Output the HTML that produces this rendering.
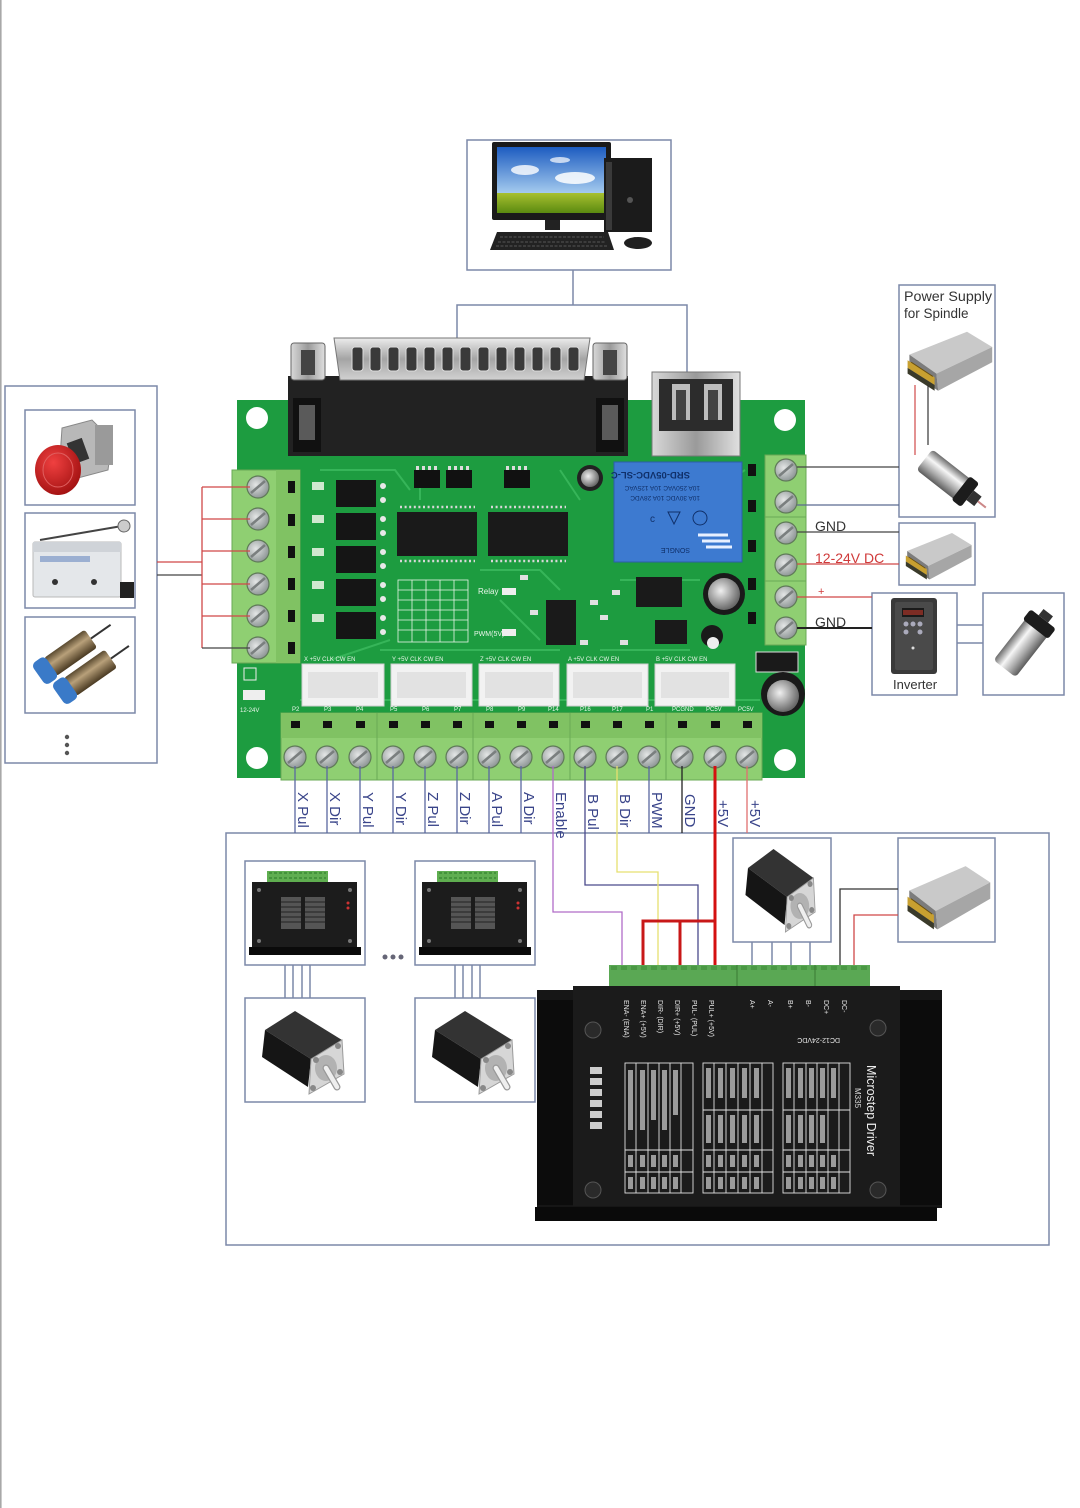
<!DOCTYPE html>
<html><head><meta charset="utf-8">
<style>
html,body{margin:0;padding:0;background:#fff;}
svg{display:block;}
text{font-family:"Liberation Sans",sans-serif;}
</style></head><body>
<svg width="1080" height="1508" viewBox="0 0 1080 1508" xmlns="http://www.w3.org/2000/svg">
<defs>
 <linearGradient id="sky" x1="0" y1="0" x2="0" y2="1"><stop offset="0" stop-color="#1d5cc0"/><stop offset="1" stop-color="#b0d4f2"/></linearGradient>
 <linearGradient id="grass" x1="0" y1="0" x2="0" y2="1"><stop offset="0" stop-color="#a8c030"/><stop offset="1" stop-color="#5a8a10"/></linearGradient>
 <linearGradient id="silv" x1="0" y1="0" x2="0" y2="1"><stop offset="0" stop-color="#ececec"/><stop offset="0.5" stop-color="#a4a4a4"/><stop offset="1" stop-color="#d2d2d2"/></linearGradient>
 <linearGradient id="silvh" x1="0" y1="0" x2="1" y2="0"><stop offset="0" stop-color="#d8d8d8"/><stop offset="0.5" stop-color="#9a9a9a"/><stop offset="1" stop-color="#e0e0e0"/></linearGradient>
 <linearGradient id="cyl" x1="0" y1="0" x2="0" y2="1"><stop offset="0" stop-color="#6c6c6c"/><stop offset="0.35" stop-color="#f6f6f6"/><stop offset="0.7" stop-color="#a8a8a8"/><stop offset="1" stop-color="#5c5c5c"/></linearGradient>
 <linearGradient id="bronze" x1="0" y1="0" x2="0" y2="1"><stop offset="0" stop-color="#5a4a30"/><stop offset="0.4" stop-color="#b8a07a"/><stop offset="1" stop-color="#4a3a22"/></linearGradient>
 <radialGradient id="scr" cx="0.4" cy="0.4" r="0.65"><stop offset="0" stop-color="#e4e6e6"/><stop offset="1" stop-color="#8a9292"/></radialGradient>
 <radialGradient id="capg" cx="0.4" cy="0.4" r="0.6"><stop offset="0" stop-color="#f0f0f0"/><stop offset="1" stop-color="#6a6a6a"/></radialGradient>
 <radialGradient id="red" cx="0.4" cy="0.35" r="0.7"><stop offset="0" stop-color="#f04040"/><stop offset="1" stop-color="#a01010"/></radialGradient>

 <g id="screw">
   <circle r="11" fill="url(#scr)" stroke="#5f7a58" stroke-width="1.2"/>
   <line x1="-7" y1="6" x2="7" y2="-6" stroke="#7a7f7f" stroke-width="2.6"/>
 </g>

 <g id="stepper">
   <polygon points="20,32 50,13 97,42 66,61" fill="#333"/>
   <polygon points="20,32 66,61 63,89 17,59" fill="#151515"/>
   <polygon points="66,61 97,42 99,76 64,96" fill="#d6d6d6" stroke="#9a9a9a" stroke-width="1"/>
   <ellipse cx="81" cy="70" rx="11" ry="13" fill="#b2b2b2"/>
   <line x1="81" y1="70" x2="92" y2="89" stroke="#999" stroke-width="7" stroke-linecap="round"/>
   <line x1="81" y1="70" x2="92" y2="89" stroke="#eee" stroke-width="4.5" stroke-linecap="round"/>
   <circle cx="71" cy="62" r="3" fill="#888"/><circle cx="93" cy="48" r="3" fill="#888"/>
   <circle cx="68" cy="90" r="3" fill="#888"/><circle cx="95" cy="74" r="3" fill="#888"/>
 </g>

 <g id="minidrv">
   <rect x="22" y="10" width="61" height="11" fill="#5fae50"/>
   <path d="M24 12h57M24 17h57" stroke="#3c8a34" stroke-width="1.5" stroke-dasharray="3 2"/>
   <rect x="7" y="21" width="105" height="72" fill="#1c1c1c"/>
   <rect x="4" y="86" width="112" height="8" fill="#0a0a0a"/>
   <rect x="36" y="36" width="20" height="32" fill="#555"/>
   <rect x="60" y="36" width="20" height="32" fill="#555"/>
   <path d="M36 41h20M36 46h20M36 51h20M36 56h20M36 61h20M60 41h20M60 46h20M60 51h20M60 56h20M60 61h20" stroke="#222" stroke-width="1"/>
   <circle cx="14" cy="29" r="2" fill="#777"/><circle cx="105" cy="29" r="2" fill="#777"/>
   <circle cx="14" cy="80" r="2" fill="#777"/><circle cx="105" cy="80" r="2" fill="#777"/>
   <circle cx="103" cy="42" r="1.5" fill="#c33"/><circle cx="103" cy="47" r="1.5" fill="#c33"/>
 </g>

 <g id="psu">
   <polygon points="6,28 70,4 98,20 36,48" fill="#c9c9c9"/>
   <polygon points="36,48 98,20 98,36 38,66" fill="#a6a6a6"/>
   <polygon points="6,28 36,48 38,66 6,46" fill="#7c7c7c"/>
   <polygon points="4,34 34,52 34,60 4,42" fill="#c8a030"/>
   <polygon points="4,42 34,60 34,66 4,48" fill="#3a3a2a"/>
   <polygon points="8,36 32,51" stroke="#6a5010" stroke-width="1"/>
 </g>
</defs>

<rect x="0" y="0" width="1080" height="1508" fill="#fff"/>
<rect x="0" y="0" width="1.6" height="1508" fill="#a8a8a8"/>

<g fill="none" stroke="#7c88a8" stroke-width="1.5">
 <!-- computer -->
 <rect x="467" y="140" width="204" height="130"/>
 <line x1="573" y1="270" x2="573" y2="305"/>
 <polyline points="457,340 457,305 687,305 687,374"/>
 <!-- left box -->
 <rect x="5" y="386" width="152" height="377"/>
 <rect x="25" y="410" width="110" height="95"/>
 <rect x="25" y="513" width="110" height="95"/>
 <rect x="25" y="617" width="110" height="96"/>
 <!-- right boxes -->
 <rect x="899" y="285" width="96" height="232"/>
 <rect x="899" y="523" width="76" height="62"/>
 <rect x="872" y="593" width="85" height="102"/>
 <rect x="983" y="593" width="81" height="102"/>
 <line x1="957" y1="625" x2="983" y2="625"/>
 <line x1="957" y1="643" x2="983" y2="643"/>
 <!-- big bottom box -->
 <rect x="226" y="833" width="823" height="412"/>
 <rect x="245" y="861" width="120" height="104"/>
 <rect x="415" y="861" width="120" height="104"/>
 <rect x="245" y="998" width="120" height="104"/>
 <rect x="415" y="998" width="120" height="104"/>
 <rect x="733" y="838" width="98" height="104"/>
 <rect x="898" y="838" width="97" height="104"/>
 <path d="M285 965v33M293 965v33M302 965v33M310 965v33M455 965v33M463 965v33M472 965v33M480 965v33"/>
 <path d="M752 942v27M772 942v27M791 942v27M810 942v27"/>
</g>

<!-- Computer -->
<rect x="492" y="142" width="119" height="78" rx="2" fill="#1a1a1a"/>
<rect x="497" y="147" width="109" height="50" fill="url(#sky)"/>
<rect x="497" y="193" width="109" height="20" fill="url(#grass)"/>
<ellipse cx="525" cy="170" rx="14" ry="5" fill="#fff" opacity="0.8"/>
<ellipse cx="575" cy="178" rx="20" ry="6" fill="#fff" opacity="0.85"/>
<ellipse cx="560" cy="160" rx="10" ry="3" fill="#fff" opacity="0.7"/>
<rect x="545" y="220" width="15" height="10" fill="#222"/>
<polygon points="490,250 497,232 608,232 614,250" fill="#222"/>
<path d="M500 237h104M498 242h108M496 246h112" stroke="#555" stroke-width="1" stroke-dasharray="3 1.5"/>
<rect x="604" y="158" width="48" height="74" fill="#1b1b1b"/>
<rect x="606" y="162" width="6" height="68" fill="#3a3a3a"/>
<circle cx="630" cy="200" r="3" fill="#555"/>
<ellipse cx="638" cy="243" rx="14" ry="6" fill="#202020"/>

<!-- PCB board -->
<rect x="237" y="400" width="568" height="378" fill="#1d9c40"/>
<g stroke="#3dbb5f" stroke-width="2" fill="none" opacity="0.8">
 <path d="M320 470 L395 470 L410 490 M330 660 L390 640 M480 570 L540 570 L560 590 M500 600 L540 640 M620 580 L700 580 M600 650 L690 650 M420 470 L420 500 M560 470 L580 500 M300 700 L760 700 M700 500 L745 470 M380 650 L560 650"/>
</g>
<circle cx="257" cy="418" r="11" fill="#fff"/>
<circle cx="785" cy="420" r="11" fill="#fff"/>
<circle cx="257" cy="758" r="11" fill="#fff"/>
<circle cx="785" cy="760" r="11" fill="#fff"/>

<!-- DB25 -->
<rect x="288" y="376" width="340" height="80" fill="#222"/>
<rect x="293" y="398" width="28" height="54" fill="#111"/>
<rect x="596" y="398" width="28" height="54" fill="#111"/>
<rect x="299" y="405" width="16" height="35" fill="#5a5a5a"/>
<rect x="602" y="405" width="16" height="35" fill="#5a5a5a"/>
<path d="M334,338 L590,338 L584,380 L340,380 Z" fill="url(#silv)" stroke="#777"/>
<g fill="#3a3a3a" stroke="#ddd" stroke-width="1">
 <rect x="352" y="347" width="11" height="24" rx="3"/><rect x="370" y="347" width="11" height="24" rx="3"/>
 <rect x="388" y="347" width="11" height="24" rx="3"/><rect x="406" y="347" width="11" height="24" rx="3"/>
 <rect x="424" y="347" width="11" height="24" rx="3"/><rect x="442" y="347" width="11" height="24" rx="3"/>
 <rect x="460" y="347" width="11" height="24" rx="3"/><rect x="478" y="347" width="11" height="24" rx="3"/>
 <rect x="496" y="347" width="11" height="24" rx="3"/><rect x="514" y="347" width="11" height="24" rx="3"/>
 <rect x="532" y="347" width="11" height="24" rx="3"/><rect x="550" y="347" width="11" height="24" rx="3"/>
 <rect x="568" y="347" width="11" height="24" rx="3"/>
</g>
<rect x="291" y="343" width="34" height="37" rx="3" fill="url(#silvh)" stroke="#666"/>
<rect x="593" y="343" width="34" height="37" rx="3" fill="url(#silvh)" stroke="#666"/>
<rect x="301" y="350" width="14" height="25" fill="#444"/>
<rect x="603" y="350" width="14" height="25" fill="#444"/>

<!-- USB -->
<rect x="652" y="372" width="88" height="84" fill="url(#silvh)" stroke="#777"/>
<rect x="659" y="379" width="74" height="52" fill="#2c2c2c"/>
<rect x="672" y="384" width="18" height="36" fill="#bdbdbd"/>
<rect x="704" y="384" width="18" height="36" fill="#bdbdbd"/>
<rect x="676" y="390" width="10" height="30" fill="#444"/>
<rect x="708" y="390" width="10" height="30" fill="#444"/>

<!-- small resistor arrays -->
<g fill="#111"><rect x="414" y="470" width="26" height="18"/><rect x="446" y="470" width="26" height="18"/><rect x="504" y="470" width="26" height="18"/></g>
<g fill="#ddd"><rect x="416" y="466" width="3" height="4"/><rect x="422" y="466" width="3" height="4"/><rect x="428" y="466" width="3" height="4"/><rect x="434" y="466" width="3" height="4"/><rect x="448" y="466" width="3" height="4"/><rect x="454" y="466" width="3" height="4"/><rect x="460" y="466" width="3" height="4"/><rect x="466" y="466" width="3" height="4"/><rect x="506" y="466" width="3" height="4"/><rect x="512" y="466" width="3" height="4"/><rect x="518" y="466" width="3" height="4"/><rect x="524" y="466" width="3" height="4"/></g>

<!-- optocouplers -->
<g fill="#151515">
 <rect x="336" y="480" width="40" height="27"/><rect x="336" y="513" width="40" height="27"/>
 <rect x="336" y="546" width="40" height="27"/><rect x="336" y="579" width="40" height="27"/>
 <rect x="336" y="612" width="40" height="27"/>
</g>
<g fill="#e8e8e8">
 <circle cx="383" cy="486" r="3"/><circle cx="383" cy="500" r="3"/><circle cx="383" cy="519" r="3"/><circle cx="383" cy="533" r="3"/>
 <circle cx="383" cy="552" r="3"/><circle cx="383" cy="566" r="3"/><circle cx="383" cy="585" r="3"/><circle cx="383" cy="599" r="3"/>
 <circle cx="383" cy="618" r="3"/><circle cx="383" cy="632" r="3"/>
</g>
<g fill="#cfe8cf"><rect x="312" y="482" width="12" height="8"/><rect x="312" y="515" width="12" height="8"/><rect x="312" y="548" width="12" height="8"/><rect x="312" y="581" width="12" height="8"/><rect x="312" y="614" width="12" height="8"/></g>

<!-- ICs -->
<rect x="397" y="512" width="80" height="44" fill="#1a1a1a"/>
<rect x="488" y="512" width="80" height="44" fill="#1a1a1a"/>
<g stroke="#d8d8d8" stroke-width="2.5" stroke-dasharray="2 2.6">
 <line x1="400" y1="507" x2="475" y2="507"/><line x1="400" y1="561" x2="475" y2="561"/>
 <line x1="491" y1="507" x2="566" y2="507"/><line x1="491" y1="561" x2="566" y2="561"/>
</g>

<!-- grid table -->
<g stroke="#e8f4e8" stroke-width="0.8" fill="none">
 <rect x="398" y="580" width="70" height="62"/>
 <path d="M398 590h70M398 600h70M398 610h70M398 620h70M398 630h70M412 580v62M426 580v62M440 580v62M454 580v62"/>
</g>
<text x="478" y="594" font-size="8" fill="#eaf6ea">Relay</text>
<text x="474" y="636" font-size="7" fill="#eaf6ea">PWM(5V)</text>
<rect x="502" y="588" width="14" height="7" fill="#eee"/>
<rect x="502" y="629" width="14" height="7" fill="#eee"/>
<rect x="546" y="600" width="30" height="45" fill="#1a1a1a"/>
<rect x="636" y="577" width="46" height="30" fill="#1a1a1a"/>
<rect x="655" y="620" width="32" height="24" fill="#1a1a1a"/>
<g fill="#e0e0e0"><rect x="520" y="575" width="8" height="5"/><rect x="530" y="610" width="8" height="5"/><rect x="590" y="600" width="8" height="5"/><rect x="600" y="615" width="8" height="5"/><rect x="612" y="590" width="8" height="5"/><rect x="620" y="640" width="8" height="5"/><rect x="580" y="640" width="8" height="5"/></g>

<!-- relay -->
<rect x="614" y="462" width="128" height="100" fill="#3d7ad0" stroke="#2a5ea8"/>
<text transform="translate(690,472) rotate(180)" font-size="9.5" fill="#10306a" font-weight="bold">SRD-05VDC-SL-C</text>
<text transform="translate(700,486) rotate(180)" font-size="6.5" fill="#10306a">10A 250VAC 10A 125VAC</text>
<text transform="translate(700,496) rotate(180)" font-size="6.5" fill="#10306a">10A 30VDC 10A 28VDC</text>
<circle cx="700" cy="518" r="7" fill="none" stroke="#10306a"/>
<text x="650" y="522" font-size="10" fill="#10306a">c</text>
<polygon points="668,512 680,512 674,524" fill="none" stroke="#10306a"/>
<text transform="translate(690,548) rotate(180)" font-size="7" fill="#10306a">SONGLE</text>
<path d="M698 535h30M702 541h28M706 547h26" stroke="#e8f0ff" stroke-width="3"/>

<!-- caps -->
<circle cx="590" cy="478" r="13" fill="#222"/><circle cx="590" cy="478" r="9" fill="url(#capg)"/>
<circle cx="724" cy="594" r="21" fill="#1a1a1a"/><circle cx="724" cy="594" r="16" fill="url(#capg)"/>
<circle cx="712" cy="636" r="11" fill="#1a1a1a"/><circle cx="713" cy="643" r="6" fill="#eee"/>
<rect x="748" y="464" width="8" height="12" fill="#111"/><rect x="748" y="500" width="8" height="12" fill="#111"/><rect x="748" y="540" width="8" height="12" fill="#111"/><rect x="748" y="578" width="8" height="12" fill="#111"/><rect x="748" y="612" width="8" height="12" fill="#111"/>
<rect x="756" y="652" width="42" height="20" fill="#1a1a1a" stroke="#ddd"/>
<circle cx="783" cy="694" r="22" fill="#1a1a1a"/><circle cx="783" cy="696" r="16" fill="url(#capg)"/>

<!-- board labels -->
<g font-size="6" fill="#eaf6ea">
 <text x="304" y="661">X +5V CLK CW EN</text><text x="392" y="661">Y +5V CLK CW EN</text>
 <text x="480" y="661">Z +5V CLK CW EN</text><text x="568" y="661">A +5V CLK CW EN</text>
 <text x="656" y="661">B +5V CLK CW EN</text>
 <text x="240" y="712">12-24V</text>
 <text x="292" y="711">P2</text><text x="324" y="711">P3</text><text x="356" y="711">P4</text><text x="390" y="711">P5</text><text x="422" y="711">P6</text><text x="454" y="711">P7</text><text x="486" y="711">P8</text><text x="518" y="711">P9</text><text x="548" y="711">P14</text><text x="580" y="711">P16</text><text x="612" y="711">P17</text><text x="646" y="711">P1</text><text x="672" y="711">PCGND</text><text x="706" y="711">PC5V</text><text x="738" y="711">PC5V</text>
</g>
<rect x="243" y="690" width="22" height="10" fill="#eee"/>
<rect x="244" y="668" width="12" height="12" fill="none" stroke="#eee"/>

<!-- headers -->
<g fill="#f2f2f2" stroke="#cfcfcf">
 <rect x="302" y="664" width="82" height="42"/><rect x="391" y="664" width="81" height="42"/>
 <rect x="479" y="664" width="80" height="42"/><rect x="567" y="664" width="81" height="42"/>
 <rect x="655" y="664" width="80" height="42"/>
</g>
<g fill="#e2e2e2"><rect x="308" y="672" width="70" height="26"/><rect x="397" y="672" width="69" height="26"/><rect x="485" y="672" width="68" height="26"/><rect x="573" y="672" width="69" height="26"/><rect x="661" y="672" width="68" height="26"/></g>

<!-- left terminal block -->
<rect x="232" y="470" width="68" height="193" fill="#8fcf72" stroke="#6aa955"/>
<rect x="276" y="470" width="24" height="193" fill="#80c263"/>
<g fill="#111"><rect x="288" y="481" width="7" height="12"/><rect x="288" y="514" width="7" height="12"/><rect x="288" y="546" width="7" height="12"/><rect x="288" y="578" width="7" height="12"/><rect x="288" y="610" width="7" height="12"/><rect x="288" y="642" width="7" height="12"/></g>
<use href="#screw" x="258" y="487"/><use href="#screw" x="258" y="519"/><use href="#screw" x="258" y="551"/>
<use href="#screw" x="258" y="584"/><use href="#screw" x="258" y="616"/><use href="#screw" x="258" y="648"/>

<!-- right terminal block -->
<rect x="765" y="455" width="41" height="190" fill="#8fcf72" stroke="#6aa955"/>
<line x1="765" y1="517" x2="806" y2="517" stroke="#6aa955"/>
<line x1="765" y1="581" x2="806" y2="581" stroke="#6aa955"/>
<use href="#screw" x="786" y="470"/><use href="#screw" x="786" y="502"/><use href="#screw" x="786" y="533"/>
<use href="#screw" x="786" y="565"/><use href="#screw" x="786" y="597"/><use href="#screw" x="786" y="628"/>

<!-- bottom terminal block -->
<rect x="281" y="713" width="481" height="67" fill="#8fcf72" stroke="#6aa955"/>
<rect x="281" y="713" width="481" height="25" fill="#80c263"/>
<g stroke="#6aa955"><line x1="377" y1="713" x2="377" y2="780"/><line x1="473" y1="713" x2="473" y2="780"/><line x1="570" y1="713" x2="570" y2="780"/><line x1="666" y1="713" x2="666" y2="780"/></g>
<g fill="#111">
 <rect x="291" y="721" width="9" height="7"/><rect x="323" y="721" width="9" height="7"/><rect x="356" y="721" width="9" height="7"/><rect x="389" y="721" width="9" height="7"/><rect x="421" y="721" width="9" height="7"/><rect x="453" y="721" width="9" height="7"/><rect x="485" y="721" width="9" height="7"/><rect x="517" y="721" width="9" height="7"/><rect x="549" y="721" width="9" height="7"/><rect x="581" y="721" width="9" height="7"/><rect x="613" y="721" width="9" height="7"/><rect x="645" y="721" width="9" height="7"/><rect x="678" y="721" width="9" height="7"/><rect x="711" y="721" width="9" height="7"/><rect x="743" y="721" width="9" height="7"/>
</g>
<use href="#screw" x="295" y="757"/><use href="#screw" x="327" y="757"/><use href="#screw" x="360" y="757"/>
<use href="#screw" x="393" y="757"/><use href="#screw" x="425" y="757"/><use href="#screw" x="457" y="757"/>
<use href="#screw" x="489" y="757"/><use href="#screw" x="521" y="757"/><use href="#screw" x="553" y="757"/>
<use href="#screw" x="585" y="757"/><use href="#screw" x="617" y="757"/><use href="#screw" x="649" y="757"/>
<use href="#screw" x="682" y="757"/><use href="#screw" x="715" y="757"/><use href="#screw" x="747" y="757"/>

<!-- left wiring -->
<g fill="none" stroke-width="1.3">
 <line x1="157" y1="562" x2="202" y2="562" stroke="#d04848"/>
 <line x1="157" y1="575" x2="202" y2="575" stroke="#444"/>
 <line x1="202" y1="487" x2="202" y2="648" stroke="#d04848"/>
 <path d="M202 487H250M202 519H250M202 551H250M202 584H250M202 616H250" stroke="#d04848"/>
 <line x1="202" y1="648" x2="250" y2="648" stroke="#444"/>
</g>

<!-- right wiring -->
<g fill="none" stroke-width="1.3">
 <line x1="797" y1="467" x2="899" y2="467" stroke="#444"/>
 <line x1="797" y1="505" x2="899" y2="505" stroke="#5a6a90"/>
 <line x1="797" y1="532" x2="899" y2="532" stroke="#444"/>
 <line x1="797" y1="564" x2="899" y2="564" stroke="#d04848"/>
 <line x1="797" y1="597" x2="872" y2="597" stroke="#d04848"/>
 <line x1="797" y1="628" x2="872" y2="628" stroke="#222" stroke-width="2"/>
</g>
<text x="815" y="531" font-size="14" fill="#333">GND</text>
<text x="815" y="563" font-size="14" fill="#d03a3a">12-24V DC</text>
<text x="818" y="595" font-size="11" fill="#d03a3a">+</text>
<text x="815" y="627" font-size="14" fill="#333">GND</text>

<!-- spindle PSU box -->
<text x="904" y="301" font-size="13.5" fill="#333" textLength="88" lengthAdjust="spacingAndGlyphs">Power Supply</text>
<text x="904" y="318" font-size="13.5" fill="#333">for Spindle</text>
<use href="#psu" transform="translate(904,328) scale(0.9,0.95)"/>
<line x1="915" y1="385" x2="915" y2="455" stroke="#d04848" stroke-width="1.2"/>
<line x1="928" y1="385" x2="928" y2="445" stroke="#333" stroke-width="1.2"/>
<g transform="rotate(38 948 478)">
 <rect x="918" y="465" width="52" height="26" rx="4" fill="url(#cyl)"/>
 <rect x="964" y="463" width="12" height="30" rx="3" fill="#1c1c1c"/>
 <rect x="976" y="472" width="10" height="12" fill="#333"/>
 <line x1="986" y1="478" x2="996" y2="478" stroke="#c88" stroke-width="2"/>
</g>

<!-- PSU 2 -->
<use href="#psu" transform="translate(903,530) scale(0.7,0.75)"/>

<!-- Inverter -->
<rect x="891" y="598" width="46" height="76" rx="3" fill="#3a3a3a"/>
<rect x="895" y="602" width="38" height="68" rx="2" fill="#4a4a4a"/>
<rect x="902" y="608" width="22" height="9" fill="#1a1a1a"/>
<rect x="903" y="610" width="20" height="5" fill="#c0392b" opacity="0.6"/>
<circle cx="906" cy="624" r="2.5" fill="#aab"/><circle cx="913" cy="624" r="2.5" fill="#aab"/><circle cx="920" cy="624" r="2.5" fill="#aab"/>
<circle cx="906" cy="632" r="2.5" fill="#aab"/><circle cx="920" cy="632" r="2.5" fill="#aab"/>
<circle cx="913" cy="648" r="1.5" fill="#ddd"/>
<text x="893" y="689" font-size="13" fill="#333">Inverter</text>

<!-- spindle motor 2 -->
<g transform="rotate(-52 1023 645)">
 <rect x="993" y="631" width="56" height="28" rx="4" fill="url(#cyl)"/>
 <rect x="1043" y="629" width="13" height="32" rx="3" fill="#1c1c1c"/>
 <rect x="1056" y="639" width="8" height="12" fill="#333"/>
</g>

<!-- left box images -->
<polygon points="62,428 92,420 112,440 108,470 78,478 60,458" fill="#b8b8b8" stroke="#888"/>
<rect x="95" y="425" width="18" height="40" fill="#9a9a9a"/>
<rect x="70" y="440" width="16" height="22" fill="#333" transform="rotate(-20 78 451)"/>
<ellipse cx="58" cy="470" rx="23" ry="25" fill="url(#red)"/>
<ellipse cx="58" cy="470" rx="15" ry="17" fill="none" stroke="#e06060" stroke-width="1"/>

<rect x="33" y="542" width="88" height="55" rx="2" fill="#e4e7ea" stroke="#b8b8b8"/>
<rect x="33" y="542" width="88" height="10" fill="#cfd3d8"/>
<line x1="40" y1="540" x2="122" y2="526" stroke="#444" stroke-width="2"/>
<circle cx="124" cy="526" r="6" fill="#ccc" stroke="#666"/>
<rect x="120" y="582" width="14" height="16" fill="#222"/>
<rect x="40" y="556" width="50" height="6" fill="#6a8ac0" opacity="0.6"/>
<circle cx="55" cy="582" r="3" fill="#333"/><circle cx="94" cy="582" r="3" fill="#333"/>

<g transform="rotate(-35 62 660)">
 <rect x="48" y="648" width="50" height="22" rx="3" fill="url(#bronze)"/>
 <rect x="34" y="646" width="16" height="26" rx="5" fill="#3a7ac8"/>
 <line x1="98" y1="659" x2="122" y2="659" stroke="#333" stroke-width="2"/>
</g>
<g transform="rotate(-35 82 680)">
 <rect x="68" y="668" width="50" height="22" rx="3" fill="url(#bronze)"/>
 <rect x="54" y="666" width="16" height="26" rx="5" fill="#3a7ac8"/>
 <line x1="118" y1="679" x2="140" y2="679" stroke="#333" stroke-width="2"/>
</g>
<circle cx="67" cy="737" r="2.2" fill="#555"/><circle cx="67" cy="745" r="2.2" fill="#555"/><circle cx="67" cy="753" r="2.2" fill="#555"/>

<!-- bottom wires from terminals -->
<g fill="none" stroke-width="1.3">
 <path d="M295 766V833M327 766V833M360 766V833M393 766V833M425 766V833M457 766V833M489 766V833M521 766V833M649 766V833" stroke="#5a68a0"/>
 <path d="M553 766V912H622V968" stroke="#b06cc8"/>
 <path d="M585 766V885H698V968" stroke="#4a4a8c"/>
 <path d="M617 766V872H658V968" stroke="#e6e070"/>
 <path d="M682 766V833" stroke="#222"/>
 <path d="M747 766V833" stroke="#e07070"/>
 <path d="M715 766V968" stroke="#d41010" stroke-width="3"/>
 <path d="M643 968V921H715M680 921V968M643 921V968" stroke="#c81818" stroke-width="3"/>
</g>
<g font-size="15" fill="#3a458a">
 <text transform="translate(298,792) rotate(90)">X Pul</text>
 <text transform="translate(330,792) rotate(90)">X Dir</text>
 <text transform="translate(363,792) rotate(90)">Y Pul</text>
 <text transform="translate(396,792) rotate(90)">Y Dir</text>
 <text transform="translate(428,792) rotate(90)">Z Pul</text>
 <text transform="translate(460,792) rotate(90)">Z Dir</text>
 <text transform="translate(492,792) rotate(90)">A Pul</text>
 <text transform="translate(524,792) rotate(90)">A Dir</text>
 <text transform="translate(556,792) rotate(90)">Enable</text>
 <text transform="translate(588,794) rotate(90)">B Pul</text>
 <text transform="translate(620,794) rotate(90)">B Dir</text>
 <text transform="translate(652,792) rotate(90)">PWM</text>
 <text transform="translate(685,794) rotate(90)">GND</text>
 <text transform="translate(718,800) rotate(90)">+5V</text>
 <text transform="translate(750,800) rotate(90)">+5V</text>
</g>

<!-- small drivers and motors -->
<use href="#minidrv" x="245" y="861"/>
<use href="#minidrv" x="415" y="861"/>
<use href="#stepper" x="245" y="998"/>
<use href="#stepper" x="415" y="998"/>
<circle cx="385" cy="957" r="2.5" fill="#667"/><circle cx="393" cy="957" r="2.5" fill="#667"/><circle cx="401" cy="957" r="2.5" fill="#667"/>

<!-- right motor + psu -->
<use href="#stepper" transform="translate(731,836) scale(0.85,1)"/>
<use href="#psu" transform="translate(904,862) scale(0.88,1.02)"/>
<g fill="none" stroke-width="1.3">
 <path d="M898 889H840V968" stroke="#333"/>
 <path d="M898 915H854V968" stroke="#d04848"/>
</g>

<!-- big driver -->
<rect x="609" y="965" width="261" height="22" fill="#5aa854"/>
<path d="M611 968h257" stroke="#4a9844" stroke-width="4" stroke-dasharray="6 4"/>
<path d="M737 965v22M815 965v22" stroke="#3a7a34"/>
<rect x="537" y="990" width="405" height="218" fill="#161616"/>
<rect x="537" y="1000" width="36" height="205" fill="#0c0c0c"/>
<rect x="900" y="1000" width="42" height="205" fill="#0c0c0c"/>
<rect x="573" y="986" width="327" height="220" fill="#1b1b1b"/>
<rect x="535" y="1207" width="402" height="14" fill="#0a0a0a"/>
<g fill="#2a2a2a" stroke="#555"><circle cx="593" cy="1030" r="8"/><circle cx="593" cy="1190" r="8"/><circle cx="878" cy="1028" r="8"/><circle cx="878" cy="1190" r="8"/></g>
<g font-size="7" fill="#e8e8e8">
 <text transform="translate(624,1000) rotate(90)">ENA- (ENA)</text>
 <text transform="translate(641,1000) rotate(90)">ENA+ (+5V)</text>
 <text transform="translate(658,1000) rotate(90)">DIR- (DIR)</text>
 <text transform="translate(675,1000) rotate(90)">DIR+ (+5V)</text>
 <text transform="translate(692,1000) rotate(90)">PUL- (PUL)</text>
 <text transform="translate(709,1000) rotate(90)">PUL+ (+5V)</text>
 <text transform="translate(750,1000) rotate(90)">A+</text>
 <text transform="translate(768,1000) rotate(90)">A-</text>
 <text transform="translate(788,1000) rotate(90)">B+</text>
 <text transform="translate(806,1000) rotate(90)">B-</text>
 <text transform="translate(824,1000) rotate(90)">DC+</text>
 <text transform="translate(842,1000) rotate(90)">DC-</text>
 <text transform="translate(840,1038) rotate(180)">DC12-24VDC</text>
</g>
<text transform="translate(867,1065) rotate(90)" font-size="12.5" fill="#eee">Microstep Driver</text>
<text transform="translate(855,1088) rotate(90)" font-size="8" fill="#ddd">M335</text>
<g fill="#ccc"><rect x="590" y="1067" width="12" height="7"/><rect x="590" y="1078" width="12" height="7"/><rect x="590" y="1089" width="12" height="7"/><rect x="590" y="1100" width="12" height="7"/><rect x="590" y="1111" width="12" height="7"/><rect x="590" y="1122" width="12" height="7"/></g>
<g fill="none" stroke="#e0e0e0" stroke-width="0.9">
 <rect x="625" y="1063" width="68" height="130"/>
 <path d="M636 1063v130M648 1063v130M659 1063v130M670 1063v130M681 1063v130M625 1150h68M625 1172h68"/>
 <rect x="703" y="1063" width="70" height="130"/>
 <path d="M714 1063v130M726 1063v130M738 1063v130M750 1063v130M762 1063v130M703 1110h70M703 1150h70M703 1172h70"/>
 <rect x="783" y="1063" width="67" height="130"/>
 <path d="M794 1063v130M806 1063v130M817 1063v130M828 1063v130M839 1063v130M783 1110h67M783 1150h67M783 1172h67"/>
</g>
<g fill="#bbb" opacity="0.8">
 <rect x="628" y="1070" width="5" height="60"/><rect x="640" y="1070" width="5" height="60"/><rect x="651" y="1070" width="5" height="50"/><rect x="662" y="1070" width="5" height="60"/><rect x="673" y="1070" width="5" height="45"/>
 <rect x="706" y="1068" width="5" height="30"/><rect x="718" y="1068" width="5" height="30"/><rect x="730" y="1068" width="5" height="30"/><rect x="742" y="1068" width="5" height="30"/><rect x="754" y="1068" width="5" height="30"/>
 <rect x="706" y="1115" width="5" height="28"/><rect x="718" y="1115" width="5" height="28"/><rect x="730" y="1115" width="5" height="28"/><rect x="742" y="1115" width="5" height="28"/><rect x="754" y="1115" width="5" height="28"/>
 <rect x="786" y="1068" width="5" height="30"/><rect x="798" y="1068" width="5" height="30"/><rect x="809" y="1068" width="5" height="30"/><rect x="820" y="1068" width="5" height="30"/><rect x="831" y="1068" width="5" height="30"/>
 <rect x="786" y="1115" width="5" height="28"/><rect x="798" y="1115" width="5" height="28"/><rect x="809" y="1115" width="5" height="28"/><rect x="820" y="1115" width="5" height="28"/>
 <rect x="628" y="1155" width="5" height="12"/><rect x="640" y="1155" width="5" height="12"/><rect x="651" y="1155" width="5" height="12"/><rect x="662" y="1155" width="5" height="12"/><rect x="673" y="1155" width="5" height="12"/>
 <rect x="706" y="1155" width="5" height="12"/><rect x="718" y="1155" width="5" height="12"/><rect x="730" y="1155" width="5" height="12"/><rect x="742" y="1155" width="5" height="12"/><rect x="754" y="1155" width="5" height="12"/>
 <rect x="786" y="1155" width="5" height="12"/><rect x="798" y="1155" width="5" height="12"/><rect x="809" y="1155" width="5" height="12"/><rect x="820" y="1155" width="5" height="12"/><rect x="831" y="1155" width="5" height="12"/>
 <rect x="628" y="1177" width="5" height="12"/><rect x="640" y="1177" width="5" height="12"/><rect x="651" y="1177" width="5" height="12"/><rect x="662" y="1177" width="5" height="12"/><rect x="673" y="1177" width="5" height="12"/>
 <rect x="706" y="1177" width="5" height="12"/><rect x="718" y="1177" width="5" height="12"/><rect x="730" y="1177" width="5" height="12"/><rect x="742" y="1177" width="5" height="12"/><rect x="754" y="1177" width="5" height="12"/>
 <rect x="786" y="1177" width="5" height="12"/><rect x="798" y="1177" width="5" height="12"/><rect x="809" y="1177" width="5" height="12"/><rect x="820" y="1177" width="5" height="12"/><rect x="831" y="1177" width="5" height="12"/>
</g>
</svg>
</body></html>
